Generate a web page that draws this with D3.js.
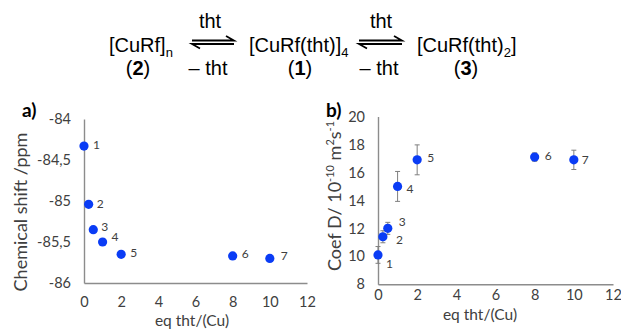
<!DOCTYPE html>
<html><head><meta charset="utf-8">
<script src="https://cdn.jsdelivr.net/npm/d3@7"></script>
<style>
html,body{margin:0;padding:0;background:#fff;}
svg{display:block;}
.eq{font-family:"Liberation Sans",Arial,sans-serif;font-size:20px;fill:#000;}
.ch{font-family:Lato,"Open Sans",sans-serif;fill:#404040;}
</style></head>
<body>
<script>
// ---- data ----
const eqTht = [0, 0.25, 0.5, 1, 2, 8, 10];
const pointLabels = ["1","2","3","4","5","6","7"];
const shiftPpm = [-84.33, -85.04, -85.35, -85.50, -85.65, -85.67, -85.70];
const coefD = [10.1, 11.4, 12.0, 15.0, 16.9, 17.1, 16.9];
const coefDErr = [0.6, 0.43, 0.43, 1.07, 1.07, 0.3, 0.69];
const xTicks = [0, 2, 4, 6, 8, 10, 12];
const yTicksA = [-84, -84.5, -85, -85.5, -86];
const yTicksB = [8, 10, 12, 14, 16, 18, 20];

const W = 621, H = 331;
const svg = d3.select("body").append("svg").attr("width", W).attr("height", H);

// ---- equation header ----
const eq = svg.append("g").attr("class", "eq");
function species(x, y, parts) {
  const t = eq.append("text").attr("x", x).attr("y", y);
  parts.forEach(p => {
    const s = t.append("tspan").text(p.t);
    if (p.sub) s.attr("font-size", 13).attr("dy", 5);
    if (p.back) s.attr("dy", -5);
  });
  return t;
}
species(109, 52, [{t:"[CuRf]"},{t:"n",sub:true}]);
species(249, 52, [{t:"[CuRf(tht)]"},{t:"4",sub:true}]);
species(417, 52, [{t:"[CuRf(tht)"},{t:"2",sub:true},{t:"]",back:true}]);
function label(cx, num) {
  const t = eq.append("text").attr("x", cx).attr("y", 75).attr("text-anchor", "middle");
  t.append("tspan").text("(");
  t.append("tspan").attr("font-weight", "bold").text(num);
  t.append("tspan").text(")");
}
label(138, "2"); label(300, "1"); label(466, "3");
function arrows(x0, x1, cx) {
  const g = eq.append("g").attr("stroke", "#000").attr("stroke-width", 1.8).attr("fill", "none");
  g.append("path").attr("d", `M${x0},40.5 H${x1} L${x1-8},36`);
  g.append("path").attr("d", `M${x1},44 H${x0} L${x0+8},48.5`);
  eq.append("text").attr("x", cx).attr("y", 28).attr("text-anchor", "middle").text("tht");
  eq.append("text").attr("x", cx - 2).attr("y", 75).attr("text-anchor", "middle").text("\u2013 tht");
}
arrows(192, 234, 210);
arrows(359, 402, 381);

// ---- panels ----
const axisColor = "#8c8c8c";
const blue = "#0a3cf5";
const tickSize = 14.5;

function panel(opt) {
  const g = svg.append("g").attr("class", "ch");
  const x = d3.scaleLinear().domain([0, 12]).range(opt.xr);
  const y = d3.scaleLinear().domain(opt.yd).range(opt.yr);

  const xa = d3.axisBottom(x).tickValues(xTicks).tickSize(0).tickPadding(opt.xpad);
  const gx = g.append("g").attr("transform", `translate(0,${opt.yr[0]})`).call(xa);
  gx.select(".domain").attr("stroke", axisColor).attr("stroke-width", 1.4);
  gx.selectAll("text").attr("font-family", "Lato").attr("font-size", tickSize).attr("fill", "#404040");

  const ya = d3.axisLeft(y).tickValues(opt.yTicks).tickSize(0).tickPadding(opt.ypad)
    .tickFormat(opt.fmt);
  const gy = g.append("g").attr("transform", `translate(${opt.xr[0]},0)`).call(ya);
  gy.select(".domain").attr("stroke", axisColor).attr("stroke-width", 1.4);
  gy.selectAll("text").attr("font-family", "Lato").attr("font-size", tickSize).attr("fill", "#404040");

  if (opt.err) {
    const eg = g.append("g").attr("stroke", "#7f7f7f").attr("stroke-width", 1);
    eqTht.forEach((v, i) => {
      const cx = x(v), y0 = y(opt.vals[i] - opt.err[i]), y1 = y(opt.vals[i] + opt.err[i]);
      eg.append("line").attr("x1", cx).attr("x2", cx).attr("y1", y0).attr("y2", y1);
      eg.append("line").attr("x1", cx-2.5).attr("x2", cx+2.5).attr("y1", y0).attr("y2", y0);
      eg.append("line").attr("x1", cx-2.5).attr("x2", cx+2.5).attr("y1", y1).attr("y2", y1);
    });
  }

  g.selectAll("circle.pt").data(opt.vals).join("circle").attr("class", "pt")
    .attr("cx", (d, i) => x(eqTht[i])).attr("cy", d => y(d)).attr("r", 4.6).attr("fill", blue);

  g.selectAll("text.pl").data(opt.vals).join("text").attr("class", "pl")
    .attr("x", (d, i) => x(eqTht[i]) + opt.lab[i][0])
    .attr("y", (d, i) => y(d) + opt.lab[i][1])
    .attr("dominant-baseline", "central")
    .attr("font-size", 12).attr("fill", "#404040")
    .text((d, i) => pointLabels[i]);

  // panel letter
  g.append("text").attr("x", opt.letter[0]).attr("y", opt.letter[1])
    .attr("font-size", 19).attr("font-weight", "bold").attr("fill", "#000").text(opt.letterText);

  // x title
  g.append("text").attr("x", opt.xt[0]).attr("y", opt.xt[1]).attr("text-anchor", "middle")
    .attr("font-size", 15.5).text("eq tht/(Cu)");
  return { g, x, y };
}

const pa = panel({
  xr: [84, 307], yd: [-86, -84], yr: [283, 119],
  yTicks: yTicksA, fmt: d => String(d).replace(".", ","),
  xpad: 13.5, ypad: 13, vals: shiftPpm,
  lab: [[9,-2],[8,-1],[8,-3],[9,-6],[9,-2],[9,-2],[11,-3]],
  letter: [22, 117], letterText: "a)", xt: [192, 326]
});
pa.g.append("text").attr("transform", "translate(27,212) rotate(-90)")
  .attr("text-anchor", "middle").attr("font-size", 18).text("Chemical shift /ppm");

const pb = panel({
  xr: [378, 613], yd: [8, 20], yr: [284.3, 116.5],
  yTicks: yTicksB, fmt: d => String(d),
  xpad: 5, ypad: 13, vals: coefD, err: coefDErr,
  lab: [[8,9],[13,3],[11,-7],[9,2],[10,-2],[10,-2],[8,0]],
  letter: [326, 117], letterText: "b)", xt: [480, 320]
});
const yt = pb.g.append("text").attr("transform", "translate(341,196) rotate(-90)")
  .attr("text-anchor", "middle").attr("font-size", 18);
yt.append("tspan").text("Coef D/ 10");
yt.append("tspan").attr("font-size", 11).attr("dy", -7).text("-10");
yt.append("tspan").attr("dy", 7).text(" m");
yt.append("tspan").attr("font-size", 11).attr("dy", -7).text("2");
yt.append("tspan").attr("dy", 7).text("s");
yt.append("tspan").attr("font-size", 11).attr("dy", -7).text("-1");
</script>
</body></html>
